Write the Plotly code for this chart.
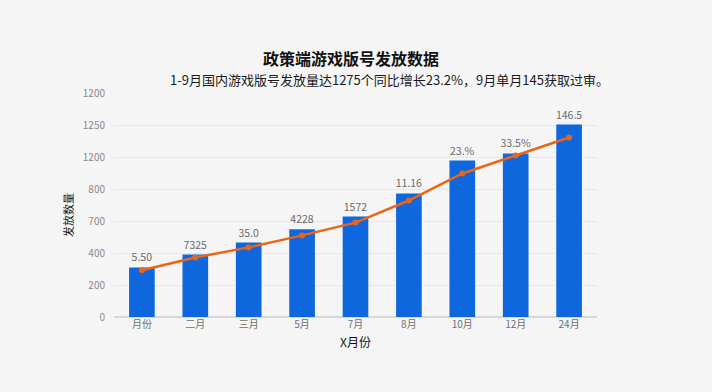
import plotly.graph_objects as go

categories = ["月份", "二月", "三月", "5月", "7月", "8月", "10月", "12月", "24月"]
bar_values = [310, 390, 465, 548, 628, 772, 978, 1022, 1203]
bar_labels = ["5.50", "7325", "35.0", "4228", "1572", "11.16", "23.%", "33.5%", "146.5"]
line_values = [292, 372, 435, 510, 590, 728, 897, 1009, 1122]
tick_vals = [0, 200, 400, 600, 800, 1000, 1200, 1400]
tick_text = ["0", "200", "400", "700", "800", "1200", "1250", "1200"]

FONT = "Noto Sans CJK SC"
BG = "#f5f5f5"

fig = go.Figure()
fig.add_trace(go.Bar(
    x=categories, y=bar_values, text=bar_labels, textposition="outside",
    textfont=dict(color="#6a6a6a", size=10.5, family=FONT),
    constraintext="none",
    marker=dict(color="#0e67dc", line=dict(width=0)),
    cliponaxis=False, showlegend=False,
))
fig.add_trace(go.Scatter(
    x=categories, y=line_values, mode="lines+markers",
    line=dict(color="#ec6418", width=2.5),
    marker=dict(color="#ec6418", size=6),
    showlegend=False,
))

fig.update_layout(
    width=712, height=392,
    margin=dict(l=114, r=115, t=93, b=75),
    paper_bgcolor=BG, plot_bgcolor="rgba(0,0,0,0)",
    bargap=0.52,
    font=dict(family=FONT, color="#777777", size=10),
    xaxis=dict(
        showgrid=False, showline=False, zeroline=False, ticks="",
        tickfont=dict(size=10, color="#6f6f6f"),
        title=dict(text="X月份", font=dict(size=12, color="#111111"), standoff=8),
    ),
    yaxis=dict(
        range=[0, 1400], tickvals=tick_vals, ticktext=tick_text,
        showgrid=True, gridcolor="rgba(0,0,0,0.05)", zeroline=True,
        zerolinecolor="rgba(0,0,0,0.12)", showline=False, ticks="",
        tickfont=dict(size=10, color="#8a8a8a"), ticklabelstandoff=8,
    ),
    annotations=[
        dict(text="<b>政策端游戏版号发放数据</b>", x=351, y=392 - 44,
             showarrow=False, font=dict(size=16, color="#111111", family=FONT)),
        dict(text="1-9月国内游戏版号发放量达1275个同比增长23.2%，9月单月145获取过审。",
             x=389, y=392 - 68, showarrow=False,
             font=dict(size=13, color="#1a1a1a", family=FONT)),
        dict(text="发放数量", textangle=-90, x=68, y=392 - 215, showarrow=False,
             xanchor="center", yanchor="middle",
             font=dict(size=11, color="#111111", family=FONT)),
    ],
)
pw = 712 - 114 - 115
ph = 392 - 93 - 75
for a in fig.layout.annotations:
    a.xref = "paper"; a.yref = "paper"
    a.x = (a.x - 114) / pw
    a.y = (a.y - 75) / ph

fig.write_html(
    "out.html",
    config={"displayModeBar": False},
    post_script="document.body.style.margin='0';document.body.style.background='%s';" % BG,
)
